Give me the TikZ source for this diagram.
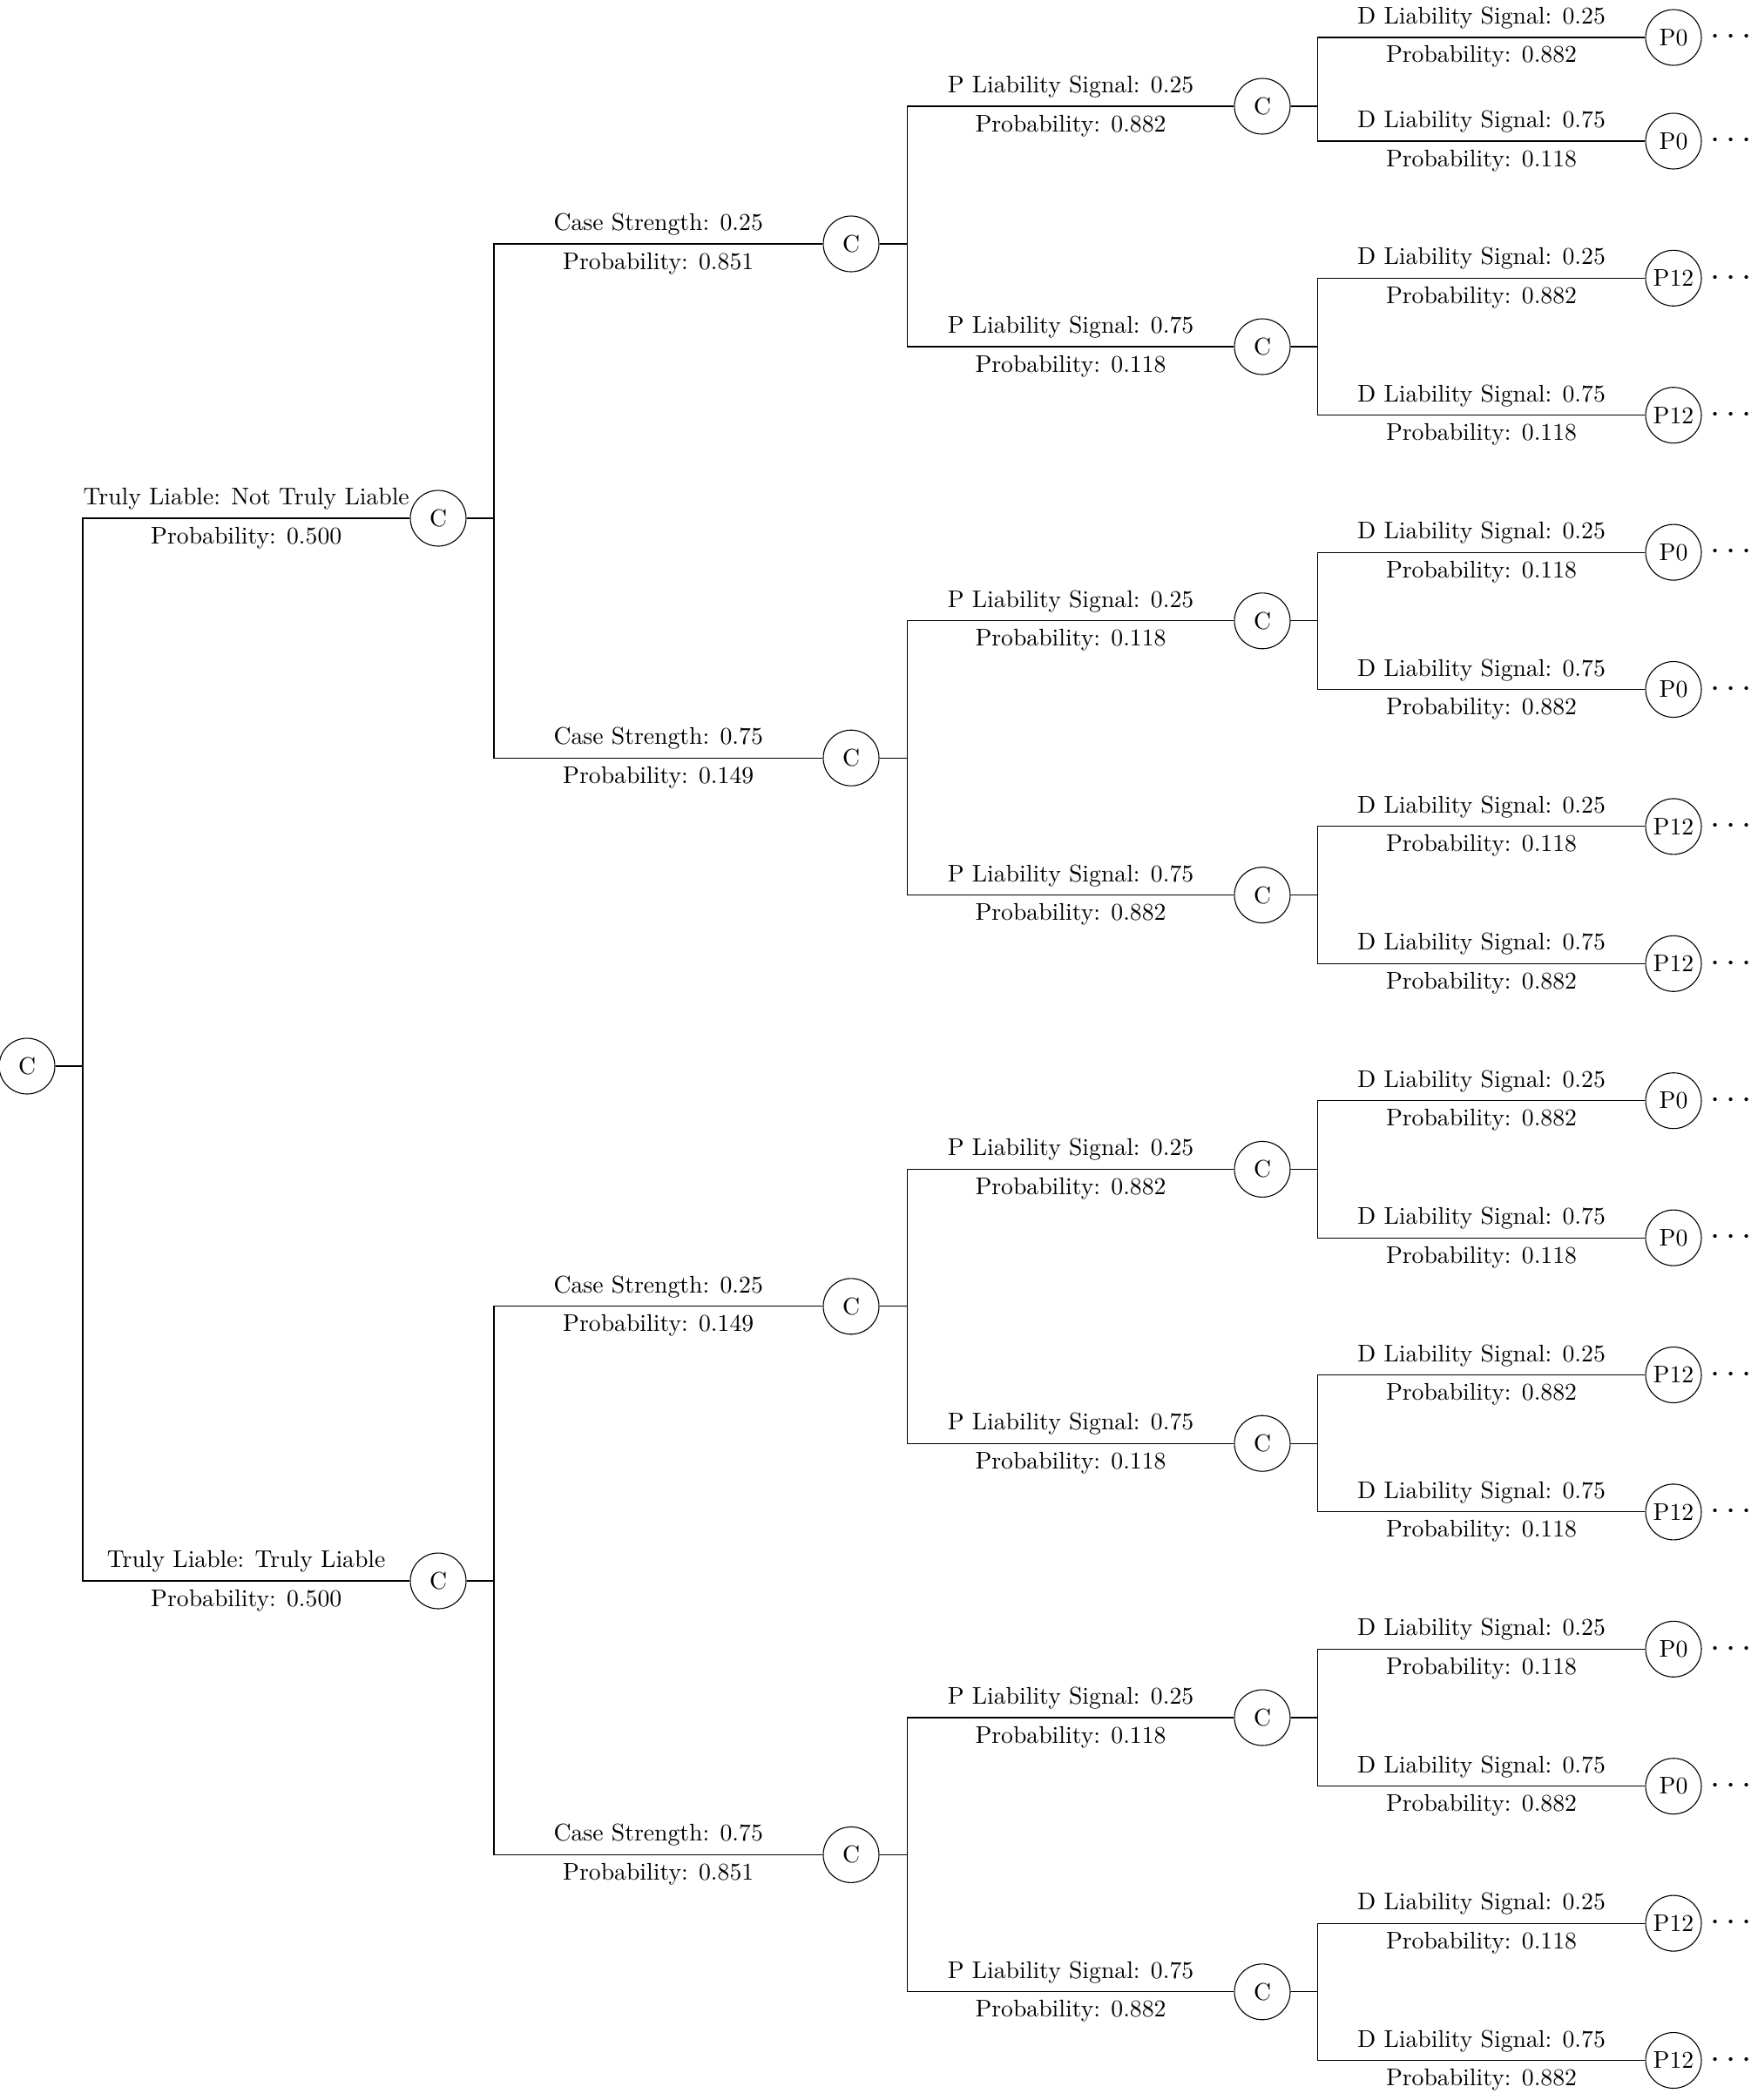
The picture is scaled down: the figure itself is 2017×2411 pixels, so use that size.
\documentclass[tikz,border=0pt]{standalone}
\usetikzlibrary{calc}
\begin{document}
\begin{tikzpicture}[x=0.3611pt,y=-0.3611pt,
  chance/.style={draw,circle,minimum size=23.1pt,inner sep=1pt},
  leafnode/.style={draw,circle,minimum size=23.1pt,inner sep=0.3pt},
  toplab/.style={above,inner sep=3.33pt,pos=0.75},
  botlab/.style={below,inner sep=3.33pt,pos=0.75},
  dotsn/.style={anchor=west,inner sep=0pt,xshift=3.5pt,font=\Large},
  branch/.style={draw}]
\useasboundingbox (0,0) rectangle (2017,2411);

% ---------- nodes ----------
\node[chance] (r) at (31,1224) {C};
\node[chance] (a1) at (503,595) {C};
\node[chance] (a2) at (503,1815) {C};
\node[chance] (b1) at (977,280) {C};
\node[chance] (b2) at (977,870.2) {C};
\node[chance] (b3) at (977,1499.8) {C};
\node[chance] (b4) at (977,2129.4) {C};
\node[chance] (c1) at (1449,122) {C};
\node[chance] (c2) at (1449,398) {C};
\node[chance] (c3) at (1449,712.8) {C};
\node[chance] (c4) at (1449,1027.6) {C};
\node[chance] (c5) at (1449,1342.4) {C};
\node[chance] (c6) at (1449,1657.2) {C};
\node[chance] (c7) at (1449,1972) {C};
\node[chance] (c8) at (1449,2286.8) {C};
\node[leafnode] (d1) at (1921,43) {P0};
\node[leafnode] (d2) at (1921,162) {P0};
\node[leafnode] (d3) at (1921,319.3) {P12};
\node[leafnode] (d4) at (1921,476.7) {P12};
\node[leafnode] (d5) at (1921,634.1) {P0};
\node[leafnode] (d6) at (1921,791.5) {P0};
\node[leafnode] (d7) at (1921,948.9) {P12};
\node[leafnode] (d8) at (1921,1106.3) {P12};
\node[leafnode] (d9) at (1921,1263.7) {P0};
\node[leafnode] (d10) at (1921,1421.1) {P0};
\node[leafnode] (d11) at (1921,1578.5) {P12};
\node[leafnode] (d12) at (1921,1735.9) {P12};
\node[leafnode] (d13) at (1921,1893.3) {P0};
\node[leafnode] (d14) at (1921,2050.7) {P0};
\node[leafnode] (d15) at (1921,2208.1) {P12};
\node[leafnode] (d16) at (1921,2365.5) {P12};
\foreach \i in {1,...,16} {\node[dotsn] (e\i) at (d\i.east) {$\cdots$};}

% ---------- fork points ----------
\coordinate (fr) at (95,1224);
\coordinate (fa1) at (567,595);
\coordinate (fa2) at (567,1815);
\foreach \i in {1,...,4} {\coordinate (fb\i) at ($(b\i.east)+(32,0)$);}
\foreach \i in {1,...,8} {\coordinate (fc\i) at ($(c\i.east)+(31,0)$);}

% ---------- stubs ----------
\draw (r.east) -- (fr);
\draw (a1.east) -- (fa1);
\draw (a2.east) -- (fa2);
\foreach \i in {1,...,4} {\draw (b\i.east) -- (fb\i);}
\foreach \i in {1,...,8} {\draw (c\i.east) -- (fc\i);}

% ---------- level 1 ----------
\draw (fr) |- (a1.west) node[toplab] (ta1) {Truly Liable: Not Truly Liable} node[botlab] (pa1) {Probability: 0.500};
\draw (fr) |- (a2.west) node[toplab] (ta2) {Truly Liable: Truly Liable} node[botlab] (pa2) {Probability: 0.500};

% ---------- level 2 ----------
\draw (fa1) |- (b1.west) node[toplab] (tb1) {Case Strength: 0.25} node[botlab] (pb1) {Probability: 0.851};
\draw (fa1) |- (b2.west) node[toplab] (tb2) {Case Strength: 0.75} node[botlab] (pb2) {Probability: 0.149};
\draw (fa2) |- (b3.west) node[toplab] (tb3) {Case Strength: 0.25} node[botlab] (pb3) {Probability: 0.149};
\draw (fa2) |- (b4.west) node[toplab] (tb4) {Case Strength: 0.75} node[botlab] (pb4) {Probability: 0.851};

% ---------- level 3 ----------
\draw (fb1) |- (c1.west) node[toplab] (tc1) {P Liability Signal: 0.25} node[botlab] (pc1) {Probability: 0.882};
\draw (fb1) |- (c2.west) node[toplab] (tc2) {P Liability Signal: 0.75} node[botlab] (pc2) {Probability: 0.118};
\draw (fb2) |- (c3.west) node[toplab] (tc3) {P Liability Signal: 0.25} node[botlab] (pc3) {Probability: 0.118};
\draw (fb2) |- (c4.west) node[toplab] (tc4) {P Liability Signal: 0.75} node[botlab] (pc4) {Probability: 0.882};
\draw (fb3) |- (c5.west) node[toplab] (tc5) {P Liability Signal: 0.25} node[botlab] (pc5) {Probability: 0.882};
\draw (fb3) |- (c6.west) node[toplab] (tc6) {P Liability Signal: 0.75} node[botlab] (pc6) {Probability: 0.118};
\draw (fb4) |- (c7.west) node[toplab] (tc7) {P Liability Signal: 0.25} node[botlab] (pc7) {Probability: 0.118};
\draw (fb4) |- (c8.west) node[toplab] (tc8) {P Liability Signal: 0.75} node[botlab] (pc8) {Probability: 0.882};

% ---------- level 4 ----------
\draw (fc1) |- (d1.west) node[toplab] (td1) {D Liability Signal: 0.25} node[botlab] (pd1) {Probability: 0.882};
\draw (fc1) |- (d2.west) node[toplab] (td2) {D Liability Signal: 0.75} node[botlab] (pd2) {Probability: 0.118};
\draw (fc2) |- (d3.west) node[toplab] (td3) {D Liability Signal: 0.25} node[botlab] (pd3) {Probability: 0.882};
\draw (fc2) |- (d4.west) node[toplab] (td4) {D Liability Signal: 0.75} node[botlab] (pd4) {Probability: 0.118};
\draw (fc3) |- (d5.west) node[toplab] (td5) {D Liability Signal: 0.25} node[botlab] (pd5) {Probability: 0.118};
\draw (fc3) |- (d6.west) node[toplab] (td6) {D Liability Signal: 0.75} node[botlab] (pd6) {Probability: 0.882};
\draw (fc4) |- (d7.west) node[toplab] (td7) {D Liability Signal: 0.25} node[botlab] (pd7) {Probability: 0.118};
\draw (fc4) |- (d8.west) node[toplab] (td8) {D Liability Signal: 0.75} node[botlab] (pd8) {Probability: 0.882};
\draw (fc5) |- (d9.west) node[toplab] (td9) {D Liability Signal: 0.25} node[botlab] (pd9) {Probability: 0.882};
\draw (fc5) |- (d10.west) node[toplab] (td10) {D Liability Signal: 0.75} node[botlab] (pd10) {Probability: 0.118};
\draw (fc6) |- (d11.west) node[toplab] (td11) {D Liability Signal: 0.25} node[botlab] (pd11) {Probability: 0.882};
\draw (fc6) |- (d12.west) node[toplab] (td12) {D Liability Signal: 0.75} node[botlab] (pd12) {Probability: 0.118};
\draw (fc7) |- (d13.west) node[toplab] (td13) {D Liability Signal: 0.25} node[botlab] (pd13) {Probability: 0.118};
\draw (fc7) |- (d14.west) node[toplab] (td14) {D Liability Signal: 0.75} node[botlab] (pd14) {Probability: 0.882};
\draw (fc8) |- (d15.west) node[toplab] (td15) {D Liability Signal: 0.25} node[botlab] (pd15) {Probability: 0.118};
\draw (fc8) |- (d16.west) node[toplab] (td16) {D Liability Signal: 0.75} node[botlab] (pd16) {Probability: 0.882};
\end{tikzpicture}
\end{document}
